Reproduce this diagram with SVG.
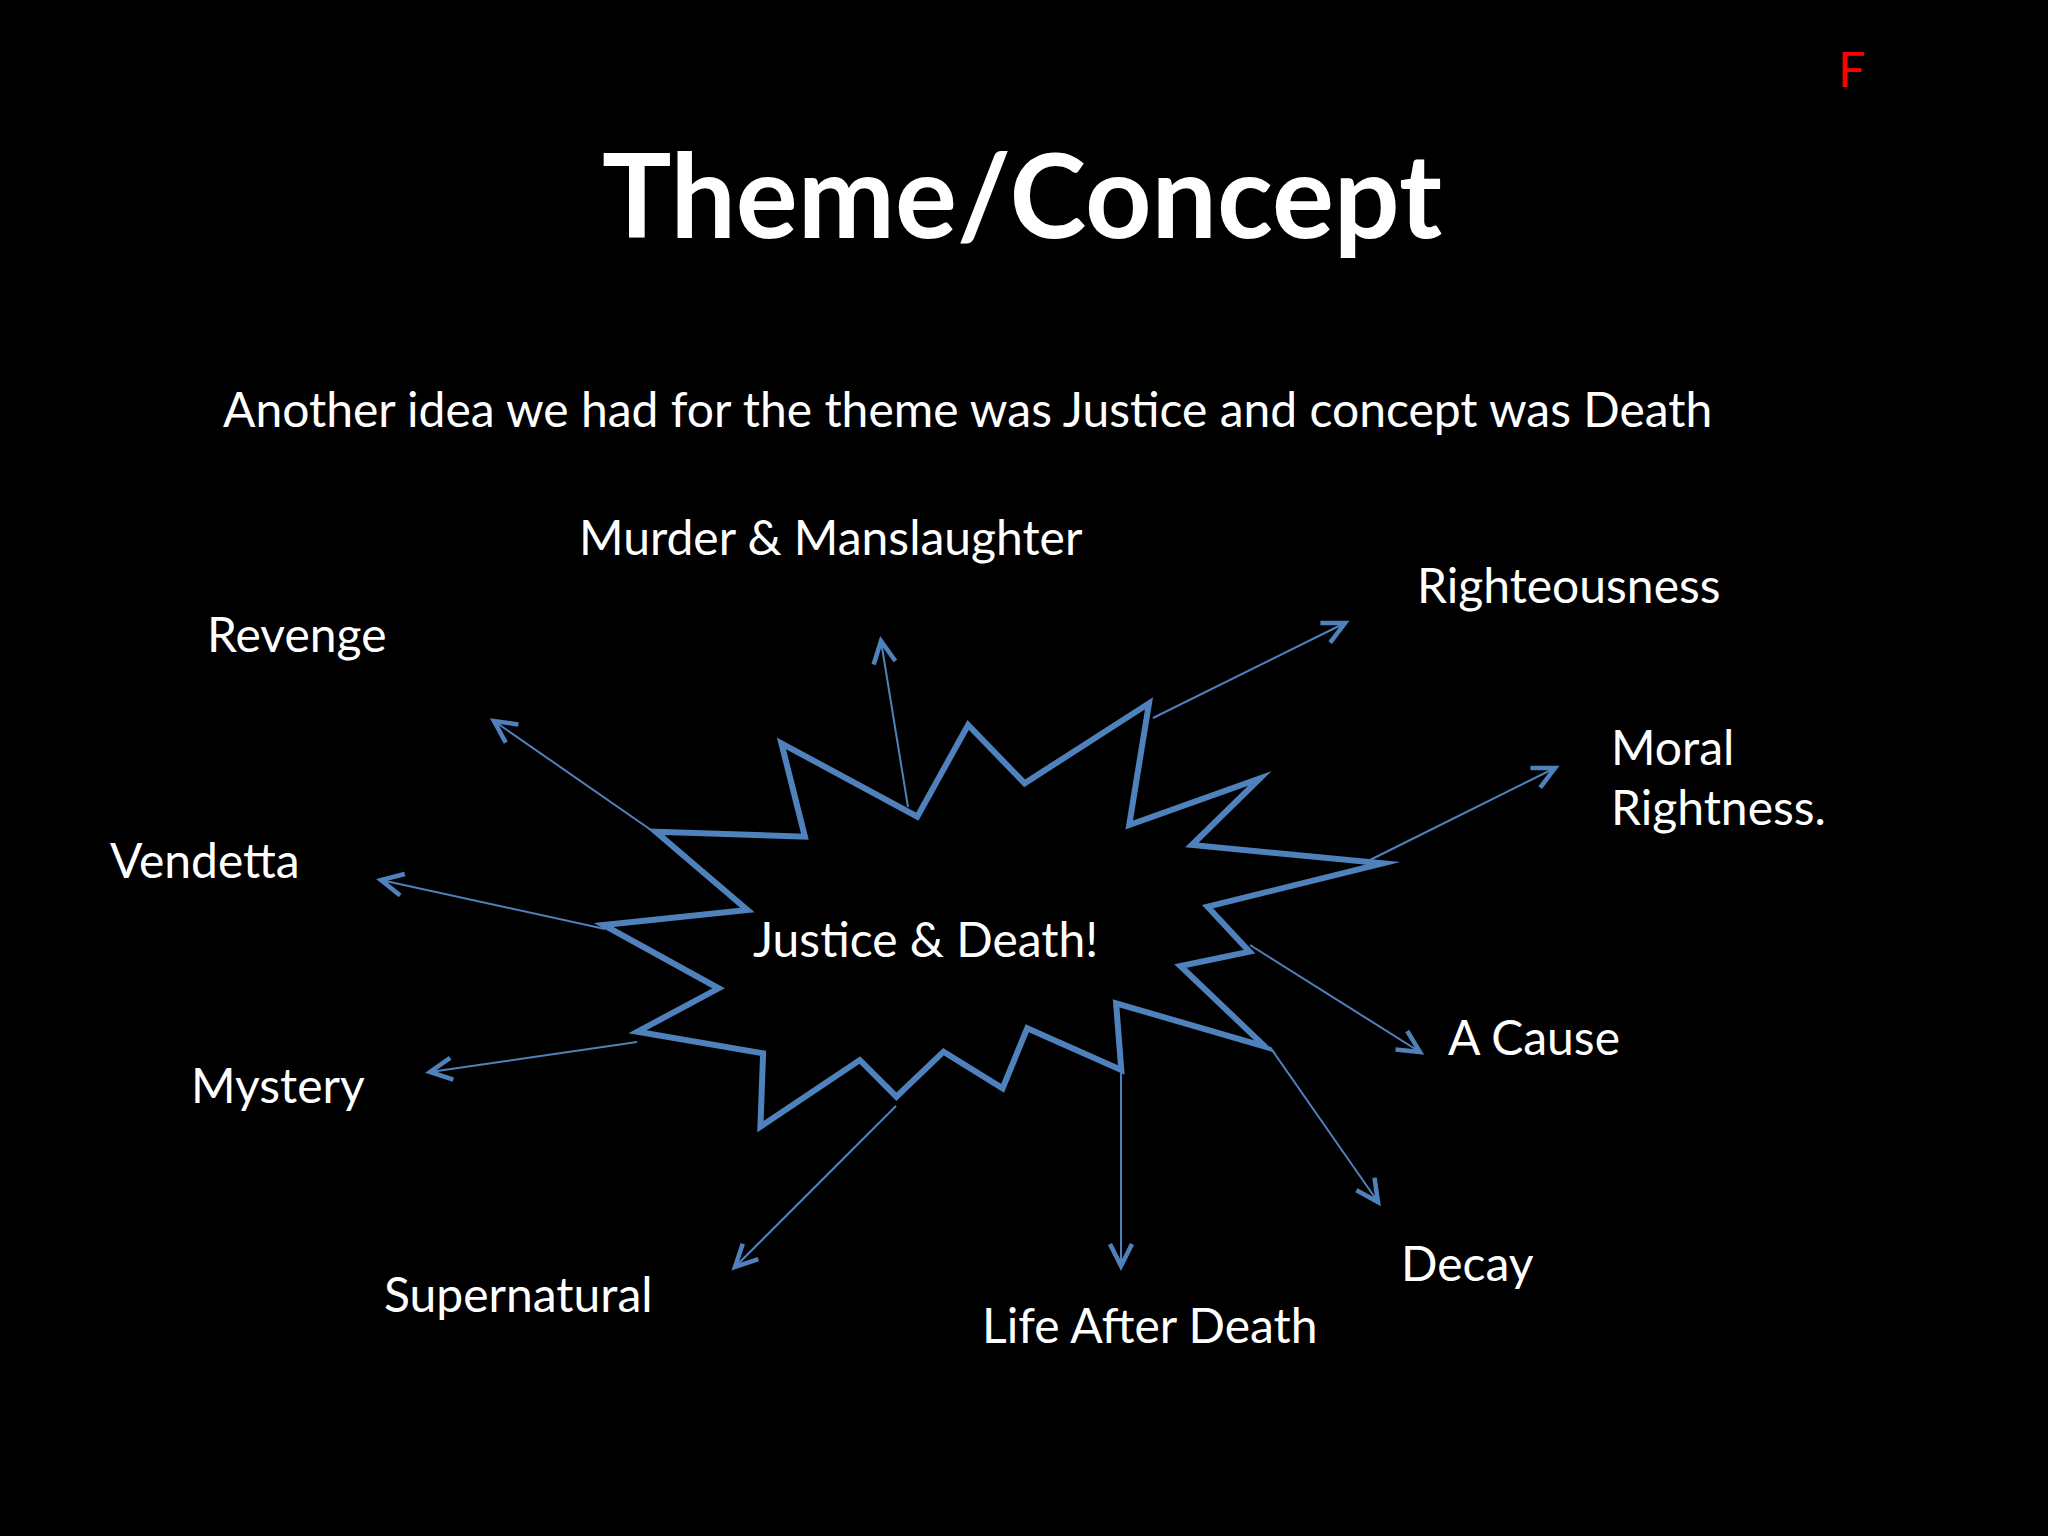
<svg xmlns="http://www.w3.org/2000/svg" width="2048" height="1536" viewBox="0 0 2048 1536">
  <style>
    .lbl { font-family: Lato, Carlito, "Liberation Sans", sans-serif; font-size: 48px; fill: #ffffff; }
    .title { font-family: Lato, Carlito, "Liberation Sans", sans-serif; font-size: 116px; font-weight: bold; fill: #ffffff; }
    .burst { fill: none; stroke: #4F81BD; stroke-width: 6; stroke-linejoin: miter; stroke-miterlimit: 20; }
    .conn { fill: none; stroke: #4F81BD; stroke-width: 2; marker-end: url(#arrow); }
  </style>
  <defs>
    <marker id="arrow" markerUnits="userSpaceOnUse" viewBox="-30 -16 40 32" markerWidth="40" markerHeight="32" refX="0" refY="0" orient="auto" overflow="visible">
      <path d="M -22 -11 L 0 0 L -22 11" fill="none" stroke="#4F81BD" stroke-width="4.5" stroke-linejoin="miter"/>
    </marker>
  </defs>
  <rect x="0" y="0" width="2048" height="1536" fill="#000000"/>

  <g id="title"><text class="title" x="1022" y="238" text-anchor="middle">Theme/Concept</text></g>
  <g id="mark"><text class="lbl" x="1838" y="87" style="fill:#FF0000">F</text></g>
  <g id="subtitle"><text class="lbl" x="223" y="427">Another idea we had for the theme was Justice and concept was Death</text></g>

  <g id="connectors">
    <line class="conn" x1="908" y1="807" x2="881" y2="641"/>
    <line class="conn" x1="651" y1="830" x2="494" y2="721"/>
    <line class="conn" x1="605" y1="929" x2="381" y2="880"/>
    <line class="conn" x1="637" y1="1042" x2="430" y2="1072"/>
    <line class="conn" x1="1153" y1="718" x2="1345" y2="623"/>
    <line class="conn" x1="1366" y1="862" x2="1555" y2="768"/>
    <line class="conn" x1="1250" y1="945" x2="1420" y2="1052"/>
    <line class="conn" x1="1270" y1="1047" x2="1378" y2="1202"/>
    <line class="conn" x1="1121" y1="1073" x2="1121" y2="1266"/>
    <line class="conn" x1="896" y1="1106" x2="735" y2="1267"/>
  </g>

  <g id="center">
    <polygon class="burst" points="655.8,831.7 804.9,836.7 781.4,743.3 917.3,816.7 968.1,725 1024.6,783.3 1149,703.3 1129.2,825 1259.9,778.3 1191.9,845 1382.8,863.3 1207.6,906.7 1249.5,951.7 1180.4,966 1265.1,1046.7 1116.1,1003.3 1121.3,1070 1027.2,1028.3 1002.6,1088.3 943.5,1051.7 896.4,1096.7 859.8,1060 760.4,1126.7 763.1,1053.3 637.5,1031.7 718.6,988.3 603.5,925 747.4,910"/>
    <text class="lbl" x="753" y="957">Justice &amp; Death!</text>
  </g>

  <g id="murder"><text class="lbl" x="579" y="555">Murder &amp; Manslaughter</text></g>
  <g id="revenge"><text class="lbl" x="207" y="652">Revenge</text></g>
  <g id="righteousness"><text class="lbl" x="1417" y="603">Righteousness</text></g>
  <g id="moral"><text class="lbl" x="1611" y="765">Moral</text><text class="lbl" x="1611" y="825">Rightness.</text></g>
  <g id="vendetta"><text class="lbl" x="110" y="878">Vendetta</text></g>
  <g id="mystery"><text class="lbl" x="191" y="1103">Mystery</text></g>
  <g id="cause"><text class="lbl" x="1448" y="1055">A Cause</text></g>
  <g id="decay"><text class="lbl" x="1401" y="1281">Decay</text></g>
  <g id="supernatural"><text class="lbl" x="384" y="1312">Supernatural</text></g>
  <g id="afterlife"><text class="lbl" x="982" y="1343">Life After Death</text></g>
</svg>
